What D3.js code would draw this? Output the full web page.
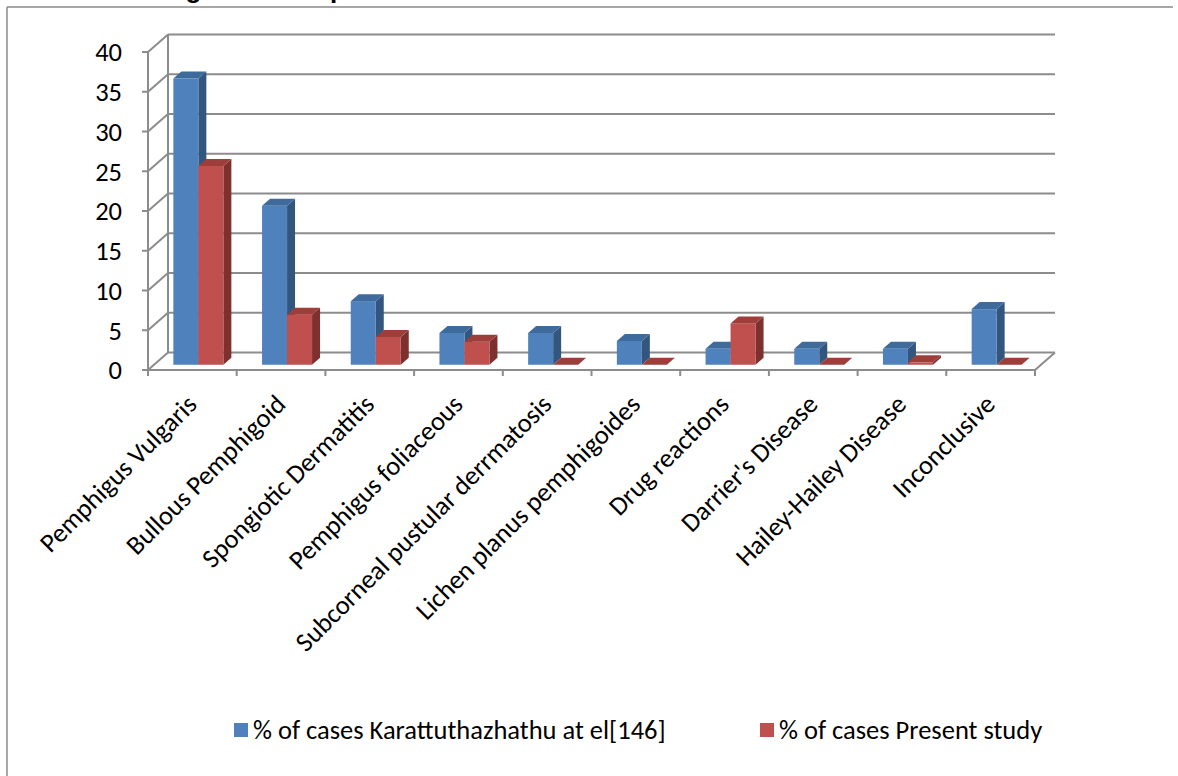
<!DOCTYPE html>
<html>
<head>
<meta charset="utf-8">
<script src="https://cdn.jsdelivr.net/npm/d3@7"></script>
<style>
  html, body { margin: 0; padding: 0; background: #ffffff; }
  svg { display: block; }
  text { font-family: Carlito, Calibri, Lato, "Noto Sans", sans-serif; fill: #000; }
</style>
</head>
<body>
<svg id="chart" width="1178" height="776"></svg>
<script>
// ---- data ----
const categories = [
  "Pemphigus Vulgaris",
  "Bullous Pemphigoid",
  "Spongiotic Dermatitis",
  "Pemphigus foliaceous",
  "Subcorneal pustular derrmatosis",
  "Lichen planus pemphigoides",
  "Drug reactions",
  "Darrier's Disease",
  "Hailey-Hailey Disease",
  "Inconclusive"
];
const seriesNames = ["% of cases Karattuthazhathu at el[146]", "% of cases Present study"];
const karattuthazhathu = [36, 20, 8, 4, 4, 3, 2, 2, 2, 7];
const presentStudy = [25, 6.3, 3.5, 2.9, 0, 0, 5.2, 0, 0.3, 0];
const yTicks = [0, 5, 10, 15, 20, 25, 30, 35, 40];
const titleText = "Diagnosis comparison";

// ---- layout ----
const svg = d3.select("#chart");
const W = 1178, H = 776;
const plotLeft = 148, plotRight = 1035, plotBottom = 370, plotTop = 52;
const depthDx = 20, depthDy = -17.5;       // wall / floor depth
const barFront = 0.3, barBack = 0.7;       // bar position inside the depth
const fontSize = 26.5;

const series = [
  { name: seriesNames[0], values: karattuthazhathu, front: "#4F81BD", top: "#3F6A9C", side: "#33567F" },
  { name: seriesNames[1], values: presentStudy,     front: "#C0504D", top: "#9D3E3B", side: "#7E302E" }
];

const x = d3.scaleBand().domain(categories).range([plotLeft, plotRight]).padding(0);
const y = d3.scaleLinear().domain([0, 40]).range([plotBottom, plotTop]);
const xs = d3.scaleBand().domain(d3.range(series.length)).range([-25, 25]).padding(0);

// outer frame (top and left edges)
const frameColor = "#8a8a8a";
svg.append("line").attr("x1", 7).attr("y1", 7).attr("x2", 1173).attr("y2", 7)
  .attr("stroke", frameColor).attr("stroke-width", 1.5);
svg.append("line").attr("x1", 7).attr("y1", 7).attr("x2", 7).attr("y2", H)
  .attr("stroke", frameColor).attr("stroke-width", 1.5);

// title (runs off the top edge)
svg.append("text")
  .attr("x", 145).attr("y", -2)
  .attr("font-size", 26).attr("font-weight", "bold")
  .style("font-family", "'Liberation Sans', Arial, sans-serif")
  .text(titleText);

// ---- walls and gridlines ----
const gridColor = "#8c8c8c";
const grid = svg.append("g").attr("stroke", gridColor).attr("stroke-width", 2).attr("fill", "none");

// back-wall horizontal gridlines
grid.selectAll(".hg").data(yTicks).join("line")
  .attr("x1", plotLeft + depthDx).attr("x2", plotRight + depthDx)
  .attr("y1", d => y(d) + depthDy).attr("y2", d => y(d) + depthDy);

// side-wall diagonals
grid.selectAll(".dg").data(yTicks).join("line")
  .attr("x1", plotLeft).attr("y1", d => y(d))
  .attr("x2", plotLeft + depthDx).attr("y2", d => y(d) + depthDy);

// back-left corner
grid.append("line")
  .attr("x1", plotLeft + depthDx).attr("x2", plotLeft + depthDx)
  .attr("y1", y(0) + depthDy).attr("y2", y(40) + depthDy);

// floor right edge
grid.append("line")
  .attr("x1", plotRight).attr("y1", y(0))
  .attr("x2", plotRight + depthDx).attr("y2", y(0) + depthDy);

// ---- bars ----
const bdx = (barBack - barFront) * depthDx;
const bdy = (barBack - barFront) * depthDy;
const barLayer = svg.append("g");

categories.forEach((cat, ci) => {
  series.forEach((s, si) => {
    const v = s.values[ci];
    const xl = x(cat) + x.bandwidth() / 2 + xs(si) + barFront * depthDx;
    const xr = xl + xs.bandwidth();
    const yb = y(0) + barFront * depthDy;
    const yt = y(v) + barFront * depthDy;
    const g = barLayer.append("g");
    // right side face
    g.append("polygon")
      .attr("points", [[xr, yt], [xr + bdx, yt + bdy], [xr + bdx, yb + bdy], [xr, yb]].join(" "))
      .attr("fill", s.side);
    // front face
    if (yb - yt > 0) {
      g.append("rect")
        .attr("x", xl).attr("y", yt)
        .attr("width", xr - xl).attr("height", yb - yt)
        .attr("fill", s.front);
    }
    // top face
    g.append("polygon")
      .attr("points", [[xl, yt], [xr, yt], [xr + bdx, yt + bdy], [xl + bdx, yt + bdy]].join(" "))
      .attr("fill", s.top);
  });
});

// ---- front axes ----
const axisG = svg.append("g").attr("stroke", gridColor).attr("stroke-width", 2).attr("fill", "none");
axisG.append("line")
  .attr("x1", plotLeft).attr("x2", plotLeft)
  .attr("y1", y(0)).attr("y2", y(40));
axisG.append("line")
  .attr("x1", plotLeft).attr("x2", plotRight)
  .attr("y1", y(0)).attr("y2", y(0));
axisG.selectAll(".yt").data(yTicks).join("line")
  .attr("x1", plotLeft - 6).attr("x2", plotLeft)
  .attr("y1", d => y(d)).attr("y2", d => y(d));
const xTickPos = categories.map(c => x(c)).concat([plotRight]);
axisG.selectAll(".xt").data(xTickPos).join("line")
  .attr("x1", d => d).attr("x2", d => d)
  .attr("y1", y(0)).attr("y2", y(0) + 6);

// y tick labels
svg.append("g").selectAll("text").data(yTicks).join("text")
  .attr("x", 122).attr("y", d => y(d)).attr("dy", "0.35em")
  .attr("text-anchor", "end").attr("font-size", fontSize)
  .text(d => d);

// category labels, rotated -45deg
svg.append("g").selectAll("text").data(categories).join("text")
  .attr("text-anchor", "end").attr("font-size", fontSize)
  .attr("transform", d => `translate(${x(d) + x.bandwidth() / 2 + 6},${plotBottom + 36}) rotate(-45)`)
  .text(d => d);

// ---- legend ----
const legendItems = [
  { s: series[0], x: 234 },
  { s: series[1], x: 760 }
];
const legend = svg.append("g");
legendItems.forEach(item => {
  legend.append("rect")
    .attr("x", item.x).attr("y", 723).attr("width", 14).attr("height", 14)
    .attr("fill", item.s.front);
  legend.append("text")
    .attr("x", item.x + 19).attr("y", 730).attr("dy", "0.35em")
    .attr("font-size", fontSize)
    .text(item.s.name);
});
</script>
</body>
</html>
